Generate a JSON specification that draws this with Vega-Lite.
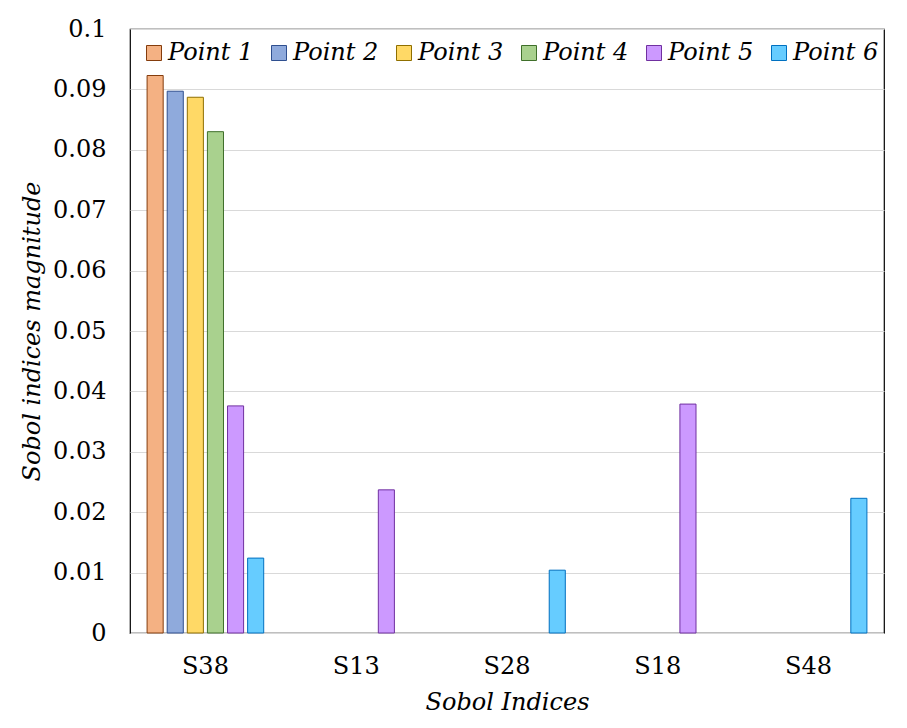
{
  "$schema": "https://vega.github.io/schema/vega-lite/v6.json",
  "description": "Sobol indices magnitude per point",
  "autosize": "none",
  "width": 754,
  "height": 604,
  "padding": {"left": 130, "top": 29, "right": 23, "bottom": 95},
  "background": "white",
  "data": {
    "values": [
      {"index": "S38", "point": "Point 1", "value": 0.0923},
      {"index": "S38", "point": "Point 2", "value": 0.0897},
      {"index": "S38", "point": "Point 3", "value": 0.0887},
      {"index": "S38", "point": "Point 4", "value": 0.0830},
      {"index": "S38", "point": "Point 5", "value": 0.0376},
      {"index": "S38", "point": "Point 6", "value": 0.0124},
      {"index": "S13", "point": "Point 5", "value": 0.0237},
      {"index": "S28", "point": "Point 6", "value": 0.0104},
      {"index": "S18", "point": "Point 5", "value": 0.0379},
      {"index": "S48", "point": "Point 6", "value": 0.0223}
    ]
  },
  "mark": {"type": "bar", "strokeWidth": 1},
  "encoding": {
    "x": {
      "field": "index",
      "type": "nominal",
      "sort": ["S38", "S13", "S28", "S18", "S48"],
      "scale": {"paddingInner": 0.2, "paddingOuter": 0.1},
      "axis": {
        "title": "Sobol Indices",
        "titleFontStyle": "italic",
        "titleFontWeight": "normal",
        "titleFontSize": 24,
        "titlePadding": 12,
        "labelAngle": 0,
        "labelFontSize": 24,
        "labelPadding": 21,
        "ticks": false,
        "tickSize": 0,
        "domain": false,
        "grid": false
      }
    },
    "xOffset": {
      "field": "point",
      "type": "nominal",
      "scale": {
        "domain": ["Point 1", "Point 2", "Point 3", "Point 4", "Point 5", "Point 6"],
        "paddingInner": 0.2,
        "paddingOuter": 0.1
      }
    },
    "y": {
      "field": "value",
      "type": "quantitative",
      "scale": {"domain": [0, 0.1], "nice": false},
      "axis": {
        "title": "Sobol indices magnitude",
        "titleFontStyle": "italic",
        "titleFontWeight": "normal",
        "titleFontSize": 24,
        "titlePadding": 8,
        "values": [0, 0.01, 0.02, 0.03, 0.04, 0.05, 0.06, 0.07, 0.08, 0.09, 0.1],
        "format": "~g",
        "labelFontSize": 24,
        "labelPadding": 24,
        "ticks": false,
        "tickSize": 0,
        "domain": false,
        "grid": true,
        "gridColor": "#d9d9d9",
        "gridWidth": 1
      }
    },
    "fill": {
      "field": "point",
      "type": "nominal",
      "scale": {
        "domain": ["Point 1", "Point 2", "Point 3", "Point 4", "Point 5", "Point 6"],
        "range": ["#F4B183", "#8FAADC", "#FFD966", "#A9D18E", "#CC99FF", "#66CCFF"]
      },
      "legend": {
        "title": null,
        "orient": "none",
        "legendX": 12,
        "legendY": 12,
        "direction": "horizontal",
        "columns": 6,
        "columnPadding": 13,
        "symbolType": "square",
        "symbolSize": 225,
        "symbolStrokeWidth": 1,
        "labelFontSize": 24,
        "labelFontStyle": "italic",
        "labelOffset": 2,
        "fillColor": "white"
      }
    },
    "stroke": {
      "field": "point",
      "type": "nominal",
      "scale": {
        "domain": ["Point 1", "Point 2", "Point 3", "Point 4", "Point 5", "Point 6"],
        "range": ["#843C0C", "#2F4F8F", "#8F6F00", "#3F6F2A", "#7030A0", "#0070C0"]
      },
      "legend": {
        "title": null,
        "orient": "none",
        "legendX": 12,
        "legendY": 12,
        "direction": "horizontal",
        "columns": 6,
        "columnPadding": 13,
        "symbolType": "square",
        "symbolSize": 225,
        "symbolStrokeWidth": 1,
        "labelFontSize": 24,
        "labelFontStyle": "italic",
        "labelOffset": 2,
        "fillColor": "white"
      }
    }
  },
  "config": {
    "font": "DejaVu Serif",
    "view": {"stroke": "black", "strokeWidth": 1.2},
    "axis": {
      "labelFont": "DejaVu Serif",
      "titleFont": "DejaVu Serif",
      "labelColor": "black",
      "titleColor": "black"
    },
    "legend": {
      "labelFont": "DejaVu Serif",
      "labelColor": "black"
    }
  }
}
